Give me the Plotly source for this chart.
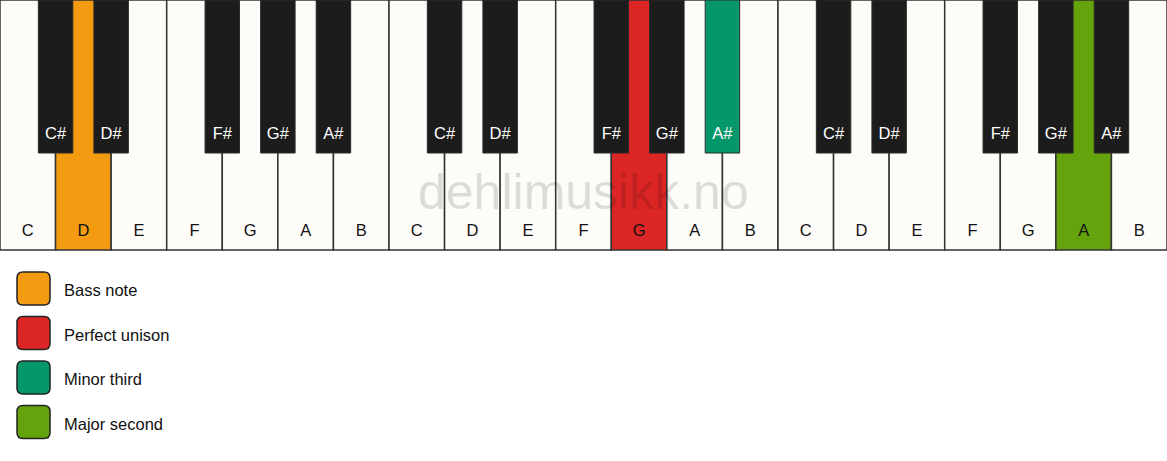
import plotly.graph_objects as go

# Keyboard: three octaves, C to B
white_notes = ["C", "D", "E", "F", "G", "A", "B"] * 3
black_notes = ["C#", "D#", "F#", "G#", "A#"] * 3
# black keys sit on the boundary after these white keys (inside one octave)
black_after = [1, 2, 4, 5, 6]
black_pos = [o * 7 + b for o in range(3) for b in black_after]

# highlighted keys: white index / black boundary -> colour
highlight_white = {1: "#f39c12", 11: "#dc2626", 19: "#65a30d"}
highlight_black = {13: "#059669"}

legend_labels = ["Bass note", "Perfect unison", "Minor third", "Major second"]
legend_colors = ["#f39c12", "#dc2626", "#059669", "#65a30d"]

W, H = 1167, 461
KEY_PX = W / len(white_notes)
WHITE_H = 250
BLACK_H = 153
FONT = "Liberation Sans, Arial, sans-serif"

white_x = [i + 0.5 for i in range(len(white_notes))]
white_fill = [highlight_white.get(i, "#fdfcf8") for i in range(len(white_notes))]
black_fill = [highlight_black.get(p, "#1c1c1c") for p in black_pos]

fig = go.Figure()

fig.add_trace(go.Bar(
    x=white_x, y=[WHITE_H] * len(white_x), base=0, width=1,
    marker=dict(color=white_fill, line=dict(color="#333333", width=1.5)),
    hoverinfo="skip", showlegend=False,
))
fig.add_trace(go.Bar(
    x=black_pos, y=[BLACK_H] * len(black_pos), base=0, width=0.62,
    marker=dict(color=black_fill, line=dict(color="#2a2a2a", width=1)),
    hoverinfo="skip", showlegend=False,
))

fig.add_trace(go.Scatter(
    x=white_x, y=[232] * len(white_x), mode="text", text=white_notes,
    textfont=dict(family=FONT, size=16.5, color="#111111"),
    hoverinfo="skip", showlegend=False,
))
fig.add_trace(go.Scatter(
    x=black_pos, y=[135] * len(black_pos), mode="text", text=black_notes,
    textfont=dict(family=FONT, size=16.5, color="#ffffff"),
    hoverinfo="skip", showlegend=False,
))


def rounded_rect(x0, y0, x1, y1, r):
    # x in key units, y in pixels; radius given in pixels
    rx = r / KEY_PX
    return (f"M {x0 + rx},{y0} L {x1 - rx},{y0} Q {x1},{y0} {x1},{y0 + r} "
            f"L {x1},{y1 - r} Q {x1},{y1} {x1 - rx},{y1} "
            f"L {x0 + rx},{y1} Q {x0},{y1} {x0},{y1 - r} "
            f"L {x0},{y0 + r} Q {x0},{y0} {x0 + rx},{y0} Z")


shapes = []
annotations = []
for i, (lab, col) in enumerate(zip(legend_labels, legend_colors)):
    top = 272 + i * 44.5
    shapes.append(dict(
        type="path", xref="x", yref="y",
        path=rounded_rect(17 / KEY_PX, top, 50 / KEY_PX, top + 33, 6),
        fillcolor=col, line=dict(color="#222222", width=1.5),
    ))
    annotations.append(dict(
        x=62 / KEY_PX, y=top + 18, xref="x", yref="y", text=lab,
        showarrow=False, xanchor="left", yanchor="middle",
        font=dict(family=FONT, size=16.5, color="#111111"),
    ))

annotations.append(dict(
    x=583 / KEY_PX, y=192, xref="x", yref="y", text="dehlimusikk.no",
    showarrow=False, xanchor="center", yanchor="middle",
    font=dict(family=FONT, size=50, color="rgba(0,0,0,0.13)"),
))

fig.update_layout(
    width=W, height=H,
    margin=dict(l=0, r=0, t=0, b=0),
    barmode="overlay",
    paper_bgcolor="white", plot_bgcolor="white",
    xaxis=dict(range=[0, len(white_notes)], visible=False, fixedrange=True),
    yaxis=dict(range=[H, 0], visible=False, fixedrange=True),
    shapes=shapes, annotations=annotations,
)

fig.write_html("out.html", config={"displayModeBar": False},
               post_script="document.body.style.margin='0';")
